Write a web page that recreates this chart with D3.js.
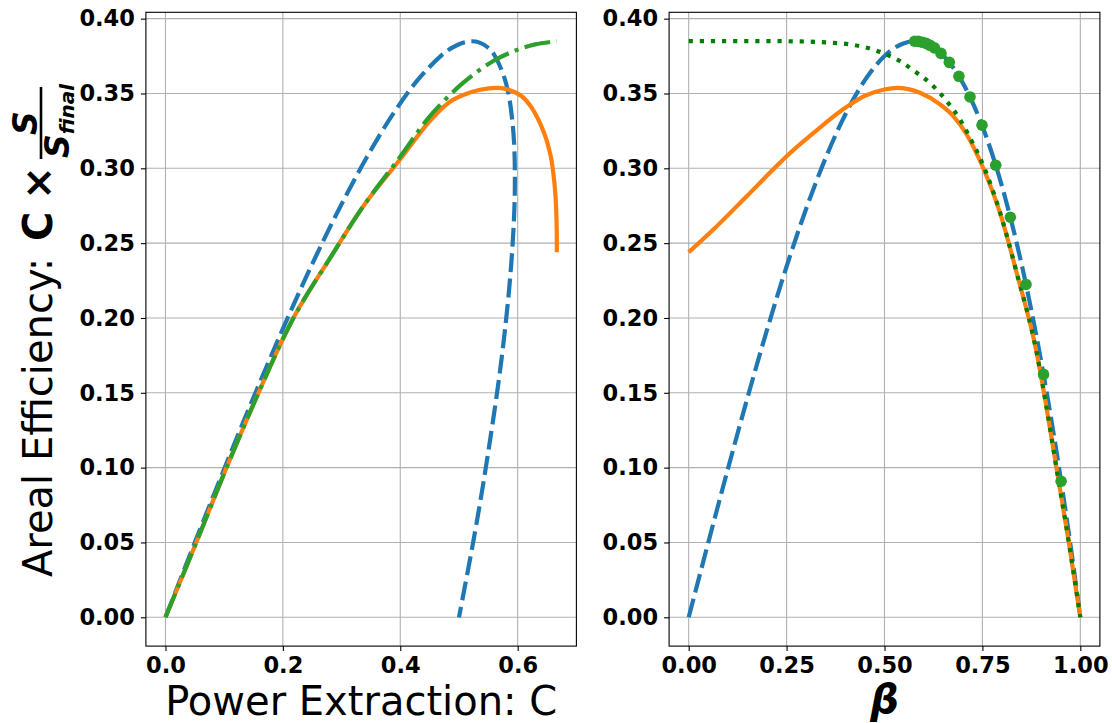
<!DOCTYPE html>
<html><head><meta charset="utf-8">
<script src="https://cdn.jsdelivr.net/npm/d3@7"></script>
<style>
body{margin:0;background:#fff}
svg{display:block}
text{font-family:"DejaVu Sans",sans-serif}
</style>
</head><body>
<svg id="chart" width="1112" height="723"></svg>
<script>
// ---------- data ----------
// blue dashed: same parameter beta drives both panels
const blueBeta = [0,0.05,0.1,0.15,0.2,0.25,0.3,0.35,0.4,0.45,0.5,0.525,0.55,0.575,0.6,0.625,0.65,0.7,0.75,0.8,0.85,0.9,0.95,0.975,1.0];
const blueE    = [0,0.0499,0.099,0.1466,0.192,0.2344,0.273,0.3071,0.336,0.3589,0.375,0.3803,0.3836,0.3849,0.384,0.3809,0.3754,0.357,0.3281,0.288,0.2359,0.171,0.0926,0.0481,0];
const blueC    = [0,0.05,0.09995,0.1497,0.1992,0.248,0.296,0.3425,0.3872,0.4295,0.4688,0.487,0.5042,0.5215,0.5352,0.5487,0.5607,0.58,0.5918,0.5952,0.589,0.572,0.5427,0.5232,0.5];

// orange solid, left panel (C, efficiency)
const orangeC  = [0,0.0525,0.104,0.1585,0.218,0.282,0.337,0.3995,0.4506,0.4847,0.5074,0.5358,0.5669,0.5833,0.6059,0.6229,0.6452,0.6563,0.6597,0.6645,0.6665,0.6667];
const orangeCE = [0,0.05,0.1,0.15,0.2,0.241,0.2747,0.3059,0.3318,0.3445,0.349,0.3525,0.3538,0.3527,0.3485,0.3411,0.3235,0.3081,0.300,0.2813,0.2591,0.2439];

// orange solid, right panel (beta, efficiency)
const orangeBeta  = [0,0.063,0.148,0.2187,0.25,0.318,0.4035,0.45,0.5,0.531,0.5907,0.6417,0.6757,0.7099,0.75,0.795,0.8376,0.8887,0.91,0.939,0.9707,1.0];
const orangeBetaE = [0.2439,0.2591,0.2813,0.300,0.3081,0.3235,0.3411,0.3485,0.3527,0.3538,0.3505,0.3427,0.3349,0.3226,0.3014,0.2702,0.2301,0.1766,0.146,0.100,0.050,0];

// green dash-dot, left panel
const greenC  = [0,0.0525,0.104,0.1585,0.218,0.282,0.337,0.3995,0.4506,0.5074,0.5585,0.598,0.63,0.6667];
const greenCE = [0,0.05,0.1,0.15,0.2,0.241,0.2747,0.3075,0.3349,0.3572,0.3717,0.379,0.3828,0.385];

// green dotted, right panel
const dottedBeta = [0,0.1,0.2,0.3,0.36,0.412,0.463,0.514,0.5396,0.5736,0.6247,0.6588,0.6928,0.7183,0.7439,0.795,0.8376,0.8887,0.91,0.939,0.9707,1.0];
const dottedE    = [0.385,0.385,0.385,0.3847,0.384,0.3828,0.380,0.375,0.3716,0.3655,0.3549,0.3449,0.3326,0.3204,0.307,0.2705,0.2302,0.1766,0.146,0.100,0.050,0];

// green markers, right panel
const markerBeta = [0.577,0.5864,0.5966,0.606,0.6162,0.6273,0.6443,0.6655,0.690,0.7183,0.749,0.784,0.8213,0.8613,0.906,0.951];
const markerE    = [0.3849,0.3848,0.3842,0.3835,0.3822,0.3805,0.3768,0.3708,0.3615,0.3477,0.3288,0.3021,0.2673,0.2224,0.1623,0.0909];

// ticks
const yTicks = [0,0.05,0.1,0.15,0.2,0.25,0.3,0.35,0.4];
const leftXTicks = [0,0.2,0.4,0.6];
const rightXTicks = [0,0.25,0.5,0.75,1.0];

// ---------- drawing ----------
const svg = d3.select('#chart');
const plotTop = 12.3, plotBottom = 646.1;
const y = d3.scaleLinear().domain([-0.01925, 0.40425]).range([plotBottom, plotTop]);
const xL = d3.scaleLinear().domain([-0.033335, 0.700035]).range([145.9, 576.4]);
const xR = d3.scaleLinear().domain([-0.05, 1.05]).range([669.1, 1099.9]);

const BLUE = '#1f77b4', ORANGE = '#ff7f0e', GREEN = '#2ca02c', DKGREEN = '#008000';
const LW = 4.2;

function setupPanel(x, xTicks, id) {
  const [x0, x1] = x.range();
  const g = svg.append('g');
  svg.append('clipPath').attr('id', id).append('rect')
    .attr('x', x0).attr('y', plotTop).attr('width', x1 - x0).attr('height', plotBottom - plotTop);
  g.append('g').selectAll('line').data(xTicks).join('line')
    .attr('x1', d => x(d)).attr('x2', d => x(d)).attr('y1', plotTop).attr('y2', plotBottom)
    .attr('stroke', '#b0b0b0').attr('stroke-width', 1.1);
  g.append('g').selectAll('line').data(yTicks).join('line')
    .attr('y1', d => y(d)).attr('y2', d => y(d)).attr('x1', x0).attr('x2', x1)
    .attr('stroke', '#b0b0b0').attr('stroke-width', 1.1);
  const plot = svg.append('g').attr('clip-path', `url(#${id})`);
  return {g, plot, x0, x1};
}

function finishPanel(x, xTicks, xFmt, x0, x1) {
  const ax = svg.append('g');
  const xa = ax.append('g').attr('transform', `translate(0,${plotBottom})`)
    .call(d3.axisBottom(x).tickValues(xTicks).tickFormat(d3.format(xFmt)).tickSize(5).tickPadding(6));
  const ya = ax.append('g').attr('transform', `translate(${x0},0)`)
    .call(d3.axisLeft(y).tickValues(yTicks).tickFormat(d3.format('.2f')).tickSize(5).tickPadding(6));
  [xa, ya].forEach(a => {
    a.select('.domain').remove();
    a.selectAll('.tick line').attr('stroke', '#000').attr('stroke-width', 1.1);
    a.selectAll('text').attr('font-family', 'DejaVu Sans').attr('font-weight', 'bold')
      .attr('font-size', 22.5).attr('fill', '#000');
  });
  ax.append('rect').attr('x', x0).attr('y', plotTop).attr('width', x1 - x0).attr('height', plotBottom - plotTop)
    .attr('fill', 'none').attr('stroke', '#000').attr('stroke-width', 1.1);
}

// Left panel
const L = setupPanel(xL, leftXTicks, 'clipL');
const lineLeft = d3.line().x(d => xL(d[0])).y(d => y(d[1])).curve(d3.curveCatmullRom.alpha(0.5));
L.plot.append('path').datum(d3.zip(blueC, blueE)).attr('d', lineLeft)
  .attr('fill', 'none').attr('stroke', BLUE).attr('stroke-width', LW).attr('stroke-dasharray', '19,6.5');
L.plot.append('path').datum(d3.zip(orangeC, orangeCE)).attr('d', lineLeft)
  .attr('fill', 'none').attr('stroke', ORANGE).attr('stroke-width', LW);
L.plot.append('path').datum(d3.zip(greenC, greenCE)).attr('d', lineLeft)
  .attr('fill', 'none').attr('stroke', GREEN).attr('stroke-width', LW).attr('stroke-dasharray', '26,6.5,4,6.5');
finishPanel(xL, leftXTicks, '.1f', L.x0, L.x1);

// Right panel
const R = setupPanel(xR, rightXTicks, 'clipR');
const lineRight = d3.line().x(d => xR(d[0])).y(d => y(d[1])).curve(d3.curveMonotoneX);
R.plot.append('path').datum(d3.zip(blueBeta, blueE)).attr('d', lineRight)
  .attr('fill', 'none').attr('stroke', BLUE).attr('stroke-width', LW).attr('stroke-dasharray', '19,6.5');
R.plot.append('path').datum(d3.zip(orangeBeta, orangeBetaE)).attr('d', lineRight)
  .attr('fill', 'none').attr('stroke', ORANGE).attr('stroke-width', LW);
R.plot.append('path').datum(d3.zip(dottedBeta, dottedE)).attr('d', lineRight)
  .attr('fill', 'none').attr('stroke', DKGREEN).attr('stroke-width', LW).attr('stroke-dasharray', '4.2,6.9');
R.plot.append('g').selectAll('circle').data(d3.zip(markerBeta, markerE)).join('circle')
  .attr('cx', d => xR(d[0])).attr('cy', d => y(d[1])).attr('r', 5.8).attr('fill', GREEN);
finishPanel(xR, rightXTicks, '.2f', R.x0, R.x1);

// X labels
svg.append('text').attr('x', (xL.range()[0] + xL.range()[1]) / 2).attr('y', 715)
  .attr('text-anchor', 'middle').attr('font-size', 40).text('Power Extraction: C');
svg.append('text').attr('x', (xR.range()[0] + xR.range()[1]) / 2).attr('y', 713)
  .attr('text-anchor', 'middle').attr('font-size', 40).attr('font-weight', 'bold')
  .attr('font-style', 'italic').text('β');

// Y label (rotated)
const yl = svg.append('g').attr('transform', 'translate(52,577) rotate(-90)');
yl.append('text').attr('x', 0).attr('y', 0).attr('font-size', 40).text('Areal Efficiency:');
yl.append('text').attr('x', 336).attr('y', 0).attr('font-size', 40).attr('font-weight', 'bold').text('C');
yl.append('text').attr('x', 394).attr('y', 0).attr('text-anchor', 'middle').attr('font-size', 40).attr('font-weight', 'bold').text('×');
yl.append('line').attr('x1', 418).attr('x2', 490).attr('y1', -11).attr('y2', -11)
  .attr('stroke', '#000').attr('stroke-width', 2.6);
yl.append('text').attr('x', 454).attr('y', -15.5).attr('text-anchor', 'middle')
  .attr('font-size', 33).attr('font-weight', 'bold').attr('font-style', 'italic').text('S');
const den = yl.append('text').attr('x', 419).attr('y', 17).attr('font-weight', 'bold').attr('font-style', 'italic');
den.append('tspan').attr('font-size', 33).text('S');
den.append('tspan').attr('font-size', 20).attr('dy', 5).text('final');
</script>
</body></html>
